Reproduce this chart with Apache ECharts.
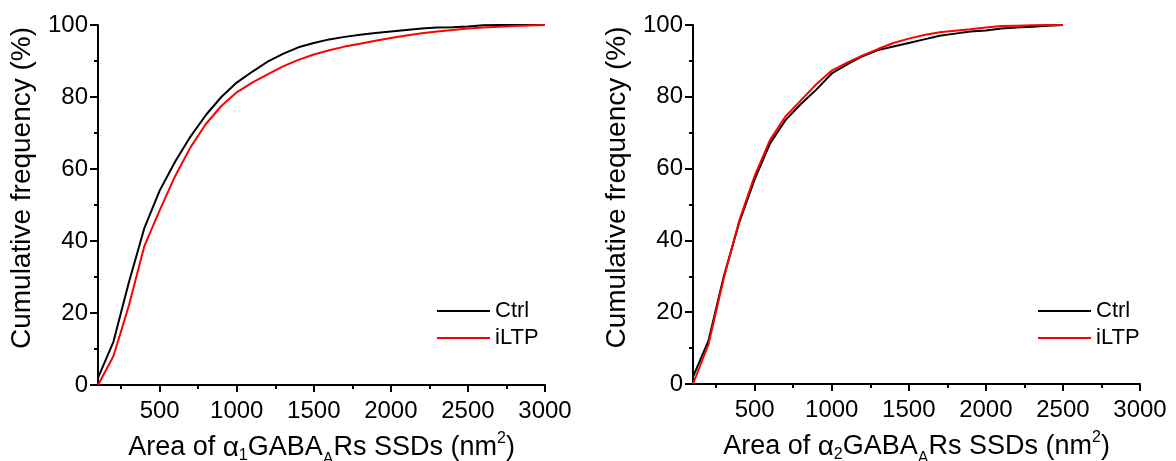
<!DOCTYPE html>
<html>
<head>
<meta charset="utf-8">
<script src="https://cdn.jsdelivr.net/npm/echarts@6/dist/echarts.min.js"></script>
<style>
html,body{margin:0;padding:0;background:#fff;}
#chart{width:1176px;height:461px;}
</style>
</head>
<body>
<div id="chart"></div>
<script>
// ---- Data ----
const seriesNames = ['Ctrl', 'iLTP'];
const xLeft = [100,200,300,400,500,600,700,800,900,1000,1100,1200,1300,1400,1500,1600,1700,1800,1900,2000,2100,2200,2300,2400,2500,2600,2700,2800,2900,3000];
const leftCtrl = [2,12,28.5,43.5,54,62,69,75,80,84,87,89.8,92,93.8,95,96,96.7,97.3,97.8,98.2,98.6,99,99.3,99.4,99.6,99.9,100,100,100,100];
const leftILTP = [0,8,22,38.5,48.5,58,66,72.5,77.5,81.3,84,86.3,88.5,90.3,91.8,93,94,94.8,95.6,96.4,97.1,97.7,98.2,98.6,99,99.3,99.5,99.7,99.85,100];
const xRight = [100,200,300,400,500,600,700,800,900,1000,1100,1200,1300,1400,1500,1600,1700,1800,1900,2000,2100,2200,2300,2400,2500];
const rightCtrl = [2,12,30,45,57,67,73.5,78,82,86.5,89,91.3,93,94,95,96,97,97.6,98.2,98.5,99,99.3,99.5,99.8,100];
const rightILTP = [0,11,29.5,45.5,58,68,74.5,79,83.5,87.3,89.5,91.5,93.3,95,96.2,97.2,98,98.4,98.8,99.3,99.7,99.8,99.9,100,100];
const xTickLabels = [500,1000,1500,2000,2500,3000];
const xMinorTicks = [250,750,1250,1750,2250,2750];
const yTickLabels = [0,20,40,60,80,100];
const yTitle = 'Cumulative frequency (%)';

// ---- Chart ----
const FONT = "'Liberation Sans', Arial, sans-serif";
const colors = ['#000000', '#ff0000'];
const pairs = (xs, ys) => xs.map((x, i) => [x, ys[i]]);

function xTitle(n) {
  return '{n|Area of }{g|α}{s|' + n + '}{n|GABA}{a|A}{n|Rs SSDs (nm}{p|2}{n|)}';
}
const rich = {
  n: {fontSize: 27, lineHeight: 40, fontFamily: FONT, color: '#000'},
  g: {fontSize: 28, lineHeight: 40, fontFamily: FONT, color: '#000'},
  s: {fontSize: 16, lineHeight: 16, verticalAlign: 'bottom', padding: [0,0,4,0], fontFamily: FONT, color: '#000'},
  a: {fontSize: 16, lineHeight: 16, verticalAlign: 'bottom', padding: [0,0,0,0], fontFamily: FONT, color: '#000'},
  p: {fontSize: 16, lineHeight: 16, verticalAlign: 'top', padding: [3,0,0,0], fontFamily: FONT, color: '#000'}
};

function mainX(gi, n) {
  return {
    gridIndex: gi, type: 'value', min: 100, max: 3000, position: 'bottom',
    axisLine: {show: true, lineStyle: {color: '#000', width: 2}},
    axisTick: {show: true, customValues: xTickLabels, length: 7, lineStyle: {color: '#000', width: 2}},
    axisLabel: {customValues: xTickLabels, fontSize: 24, color: '#000', margin: 14, fontFamily: FONT,
      formatter: v => String(v)},
    splitLine: {show: false},
    name: xTitle(n), nameLocation: 'middle', nameGap: 31,
    nameTextStyle: {rich: rich}
  };
}
function minorX(gi) {
  return {
    gridIndex: gi, type: 'value', min: 100, max: 3000, position: 'bottom',
    axisLine: {show: false},
    axisTick: {show: true, customValues: xMinorTicks, length: 4, lineStyle: {color: '#000', width: 2}},
    axisLabel: {show: false},
    splitLine: {show: false}
  };
}
function yAx(gi) {
  return {
    gridIndex: gi, type: 'value', min: 0, max: 100, interval: 20,
    axisLine: {show: true, lineStyle: {color: '#000', width: 2}},
    axisTick: {show: true, length: 8, lineStyle: {color: '#000', width: 2}},
    minorTick: {show: true, splitNumber: 2, length: 4, lineStyle: {color: '#000', width: 2}},
    axisLabel: {fontSize: 24, color: '#000', margin: 10, fontFamily: FONT,
      formatter: v => String(v)},
    splitLine: {show: false}, minorSplitLine: {show: false},
    name: yTitle, nameLocation: 'middle', nameGap: 62,
    nameTextStyle: {fontSize: 28, color: '#000', fontFamily: FONT, padding: [0, 0, 0, 34]}
  };
}
function line(name, data, xi, yi, ci) {
  return {
    name: name, type: 'line', xAxisIndex: xi, yAxisIndex: yi, data: data,
    showSymbol: false, symbol: 'none', smooth: false, animation: false,
    lineStyle: {color: colors[ci], width: 2}, itemStyle: {color: colors[ci]}
  };
}
function legend(left) {
  return {
    data: seriesNames, orient: 'vertical', left: left, top: 295,
    icon: 'rect', itemWidth: 53, itemHeight: 2, itemGap: 5,
    textStyle: {fontSize: 22, color: '#000', fontFamily: FONT},
    selectedMode: false
  };
}

const chart = echarts.init(document.getElementById('chart'), null, {renderer: 'canvas'});
chart.setOption({
  animation: false,
  backgroundColor: '#fff',
  grid: [
    {left: 98, right: 631, top: 25, bottom: 76, containLabel: false, outerBoundsMode: 'none'},
    {left: 693, right: 36, top: 25, bottom: 77, containLabel: false, outerBoundsMode: 'none'}
  ],
  xAxis: [mainX(0, 1), minorX(0), mainX(1, 2), minorX(1)],
  yAxis: [yAx(0), yAx(1)],
  legend: [legend(432), legend(1033)],
  series: [
    line(seriesNames[0], pairs(xLeft, leftCtrl), 0, 0, 0),
    line(seriesNames[1], pairs(xLeft, leftILTP), 0, 0, 1),
    line(seriesNames[0], pairs(xRight, rightCtrl), 2, 1, 0),
    line(seriesNames[1], pairs(xRight, rightILTP), 2, 1, 1)
  ]
});
</script>
</body>
</html>
